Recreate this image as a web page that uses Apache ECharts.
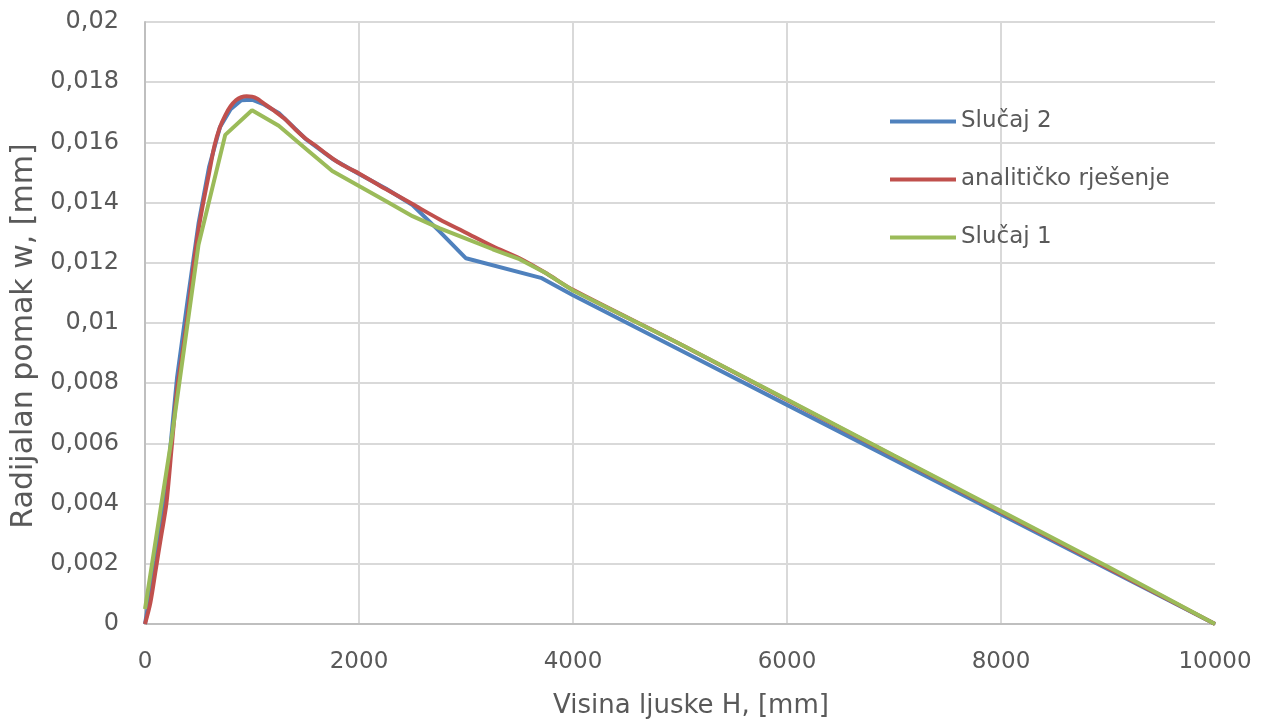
<!DOCTYPE html>
<html>
<head>
<meta charset="utf-8">
<script src="https://cdn.jsdelivr.net/npm/echarts@6/dist/echarts.min.js"></script>
<style>
html,body{margin:0;padding:0;background:#fff;}
#chart{width:1263px;height:724px;}
</style>
</head>
<body>
<div id="chart"></div>
<script>
// ---- data ----
const seriesNames = ['Slučaj 2', 'analitičko rješenje', 'Slučaj 1'];
const xTitle = 'Visina ljuske H, [mm]';
const yTitle = 'Radijalan pomak w, [mm]';

const blueX = [0,100,200,300,400,500,600,700,800,900,1000,1100,1250,1500,1750,2000,2250,2500,2750,3000,3700,4000,5000,6000,7000,8000,9000,10000];
const blueW = [0,0.0021,0.0045,0.0082,0.0108,0.0133,0.0152,0.0165,0.0171,0.01740,0.01742,0.01728,0.01698,0.01612,0.01546,0.01495,0.01447,0.01392,0.01305,0.01215,0.01150,0.01092,0.00910,0.00728,0.00546,0.00364,0.00182,0];

const redX = [0,50,100,150,200,250,300,350,400,450,500,550,600,650,700,750,800,850,900,950,1000,1050,1100,1200,1300,1400,1500,1600,1700,1800,1900,2000,2250,2500,2750,3000,3250,3500,3750,4000,5000,6000,7000,8000,9000,10000];
const redW = [0,0.0007,0.0018,0.0029,0.0040,0.0059,0.0078,0.0090,0.0103,0.0118,0.0131,0.0141,0.0150,0.0159,0.0165,0.0169,0.0172,0.0174,0.01750,0.01753,0.01752,0.01745,0.01732,0.01707,0.01680,0.01645,0.01613,0.01588,0.01560,0.01535,0.01515,0.01497,0.01445,0.01395,0.01345,0.01300,0.01255,0.01215,0.01165,0.01110,0.0093,0.00744,0.00558,0.00372,0.00186,0];

const greenX = [0,250,500,750,1000,1250,1500,1750,2000,2250,2500,2750,3000,3250,3500,3750,4000,5000,6000,7000,8000,9000,10000];
const greenW = [0.0005,0.0062,0.0126,0.01625,0.01707,0.01655,0.0158,0.01505,0.01455,0.01405,0.01355,0.01315,0.01280,0.01245,0.01212,0.01165,0.01108,0.0093,0.00746,0.0056,0.00375,0.0019,0];

const colors = ['#4F81BD', '#C0504D', '#9BBB59'];

function zip(xs, ys) { return xs.map((x, i) => [x, ys[i]]); }

const FONT = "'DejaVu Sans', sans-serif";
const TXT = '#595959';

const chart = echarts.init(document.getElementById('chart'));
chart.setOption({
  animation: false,
  backgroundColor: '#fff',
  grid: { left: 145, right: 48, top: 22, bottom: 100, containLabel: false },
  legend: {
    orient: 'vertical',
    left: 885,
    top: 105,
    itemWidth: 66,
    itemHeight: 4,
    itemGap: 35,
    icon: 'rect',
    textStyle: { fontFamily: FONT, fontSize: 23, color: TXT },
    data: seriesNames
  },
  xAxis: {
    type: 'value',
    min: 0, max: 10000, interval: 2000,
    name: xTitle,
    nameLocation: 'middle',
    nameGap: 69,
    nameTextStyle: { fontFamily: FONT, fontSize: 26, color: TXT, padding: [0, 0, 0, 22] },
    axisLine: { show: true, lineStyle: { color: '#BFBFBF', width: 2 } },
    axisTick: { show: false },
    axisLabel: { fontFamily: FONT, fontSize: 23, color: TXT, margin: 27, formatter: v => String(v) },
    splitLine: { show: true, showMinLine: false, showMaxLine: false, lineStyle: { color: '#D9D9D9', width: 2 } }
  },
  yAxis: {
    type: 'value',
    min: 0, max: 0.02, interval: 0.002,
    name: yTitle,
    nameLocation: 'middle',
    nameGap: 104,
    nameTextStyle: { fontFamily: FONT, fontSize: 30, color: TXT, padding: [0, 26, 0, 0] },
    axisLine: { show: true, lineStyle: { color: '#BFBFBF', width: 2 } },
    axisTick: { show: false },
    axisLabel: {
      fontFamily: FONT, fontSize: 24, color: TXT, margin: 26,
      formatter: v => v === 0 ? '0' : String(+v.toFixed(4)).replace('.', ',')
    },
    splitLine: { show: true, showMinLine: false, lineStyle: { color: '#D9D9D9', width: 2 } }
  },
  series: [
    { name: seriesNames[0], type: 'line', data: zip(blueX, blueW), showSymbol: false, symbol: 'none',
      lineStyle: { color: colors[0], width: 4 }, itemStyle: { color: colors[0] } },
    { name: seriesNames[1], type: 'line', data: zip(redX, redW), showSymbol: false, symbol: 'none', smooth: 0.3,
      lineStyle: { color: colors[1], width: 4 }, itemStyle: { color: colors[1] } },
    { name: seriesNames[2], type: 'line', data: zip(greenX, greenW), showSymbol: false, symbol: 'none',
      lineStyle: { color: colors[2], width: 4 }, itemStyle: { color: colors[2] } }
  ]
});
</script>
</body>
</html>
